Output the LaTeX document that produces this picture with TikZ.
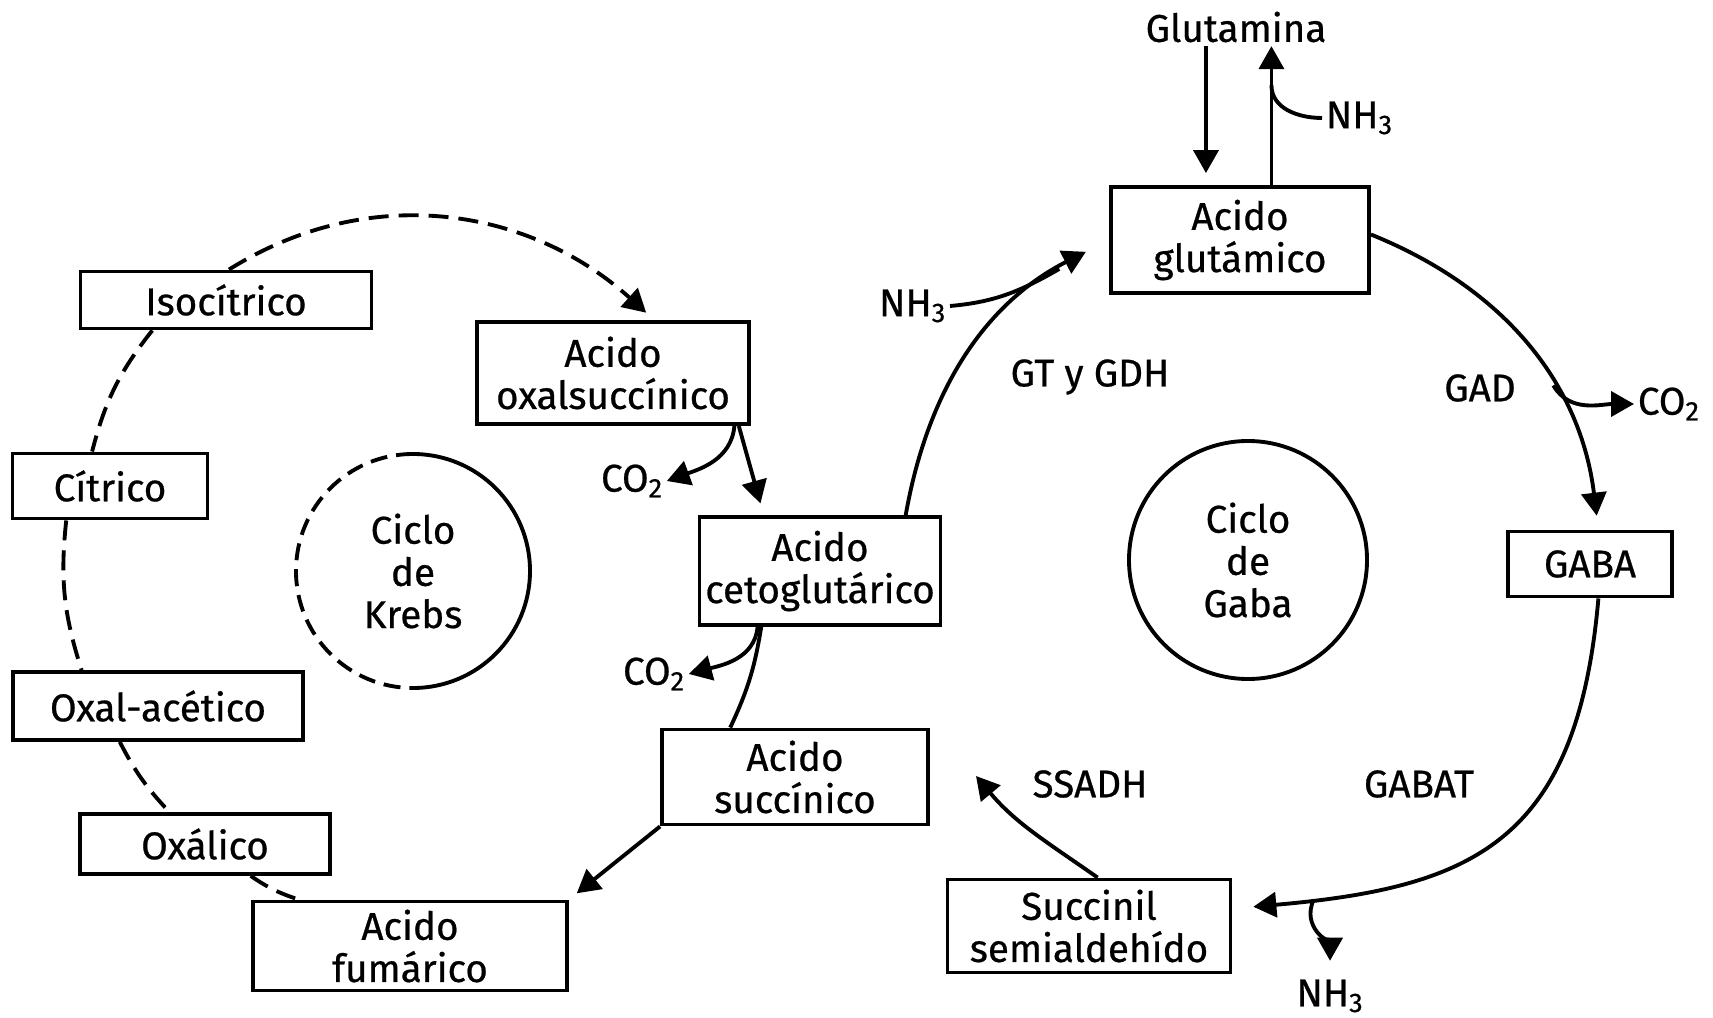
\documentclass[tikz,border=0pt]{standalone}
\usepackage{fontspec}
\setmainfont{Fira Sans}[FakeBold=0.6]
\usetikzlibrary{calc,arrows.meta}

\tikzset{
	caja/.style={draw, line width=2.2pt, align=center, inner sep=0pt, font=\fontsize{22}{24}\selectfont},
	etiq/.style={inner sep=2pt, align=center, font=\fontsize{22}{24}\selectfont},
	linea/.style={line width=2.2pt},
	flecha/.style={line width=2.2pt, -{Triangle[length=4.6mm,width=5mm]}},
	puntos/.style={line width=2.2pt, dash pattern=on 4mm off 2mm},
}

\begin{document}
\begin{tikzpicture}[x=0.2mm, y=0.2mm]
	\useasboundingbox (0,0) rectangle (1713,1017);

	% boxes, Krebs side
	\node[caja, minimum width=58.2mm, minimum height=11.4mm] (iso)  at (226,717) {Isocítrico};
	\node[caja, minimum width=39mm,   minimum height=13mm]   (cit)  at (110,531) {Cítrico};
	\node[caja, minimum width=58mm,   minimum height=13.6mm] (oxac) at (158,311) {Oxal-acético};
	\node[caja, minimum width=50mm,   minimum height=12mm]   (oxa)  at (205,173) {Oxálico};
	\node[caja, minimum width=62.8mm, minimum height=17.8mm] (fum)  at (410,71)  {Acido\\fumárico};
	\node[caja, minimum width=54.4mm, minimum height=20.4mm] (oxs)  at (613,644) {Acido\\oxalsuccínico};
	\node[caja, minimum width=48.2mm, minimum height=21.6mm] (ceto) at (820,446) {Acido\\cetoglutárico};
	\node[caja, minimum width=53.2mm, minimum height=19mm]   (suc)  at (795,240) {Acido\\succínico};

	% boxes, Gaba side
	\node[caja, minimum width=51.6mm, minimum height=21.2mm] (glu)  at (1240,777) {Acido\\glutámico};
	\node[caja, minimum width=32.8mm, minimum height=13mm]   (gaba) at (1590,453) {GABA};
	\node[caja, minimum width=56.6mm, minimum height=18.6mm] (ssa)  at (1089,91)  {Succinil\\semialdehído};

	% cycles
	\node[etiq] (krebs) at (413,446) {Ciclo\\de\\Krebs};
	\draw[linea] ($(krebs)+(0,117)$) arc[start angle=90, end angle=-90, radius=23.4mm];
	\draw[linea, dash pattern=on 3.4mm off 1.8mm] ($(krebs)+(0,117)$) arc[start angle=90, end angle=270, radius=23.4mm];
	\node[etiq, circle, draw, line width=2.2pt, minimum size=47.6mm] (gabac) at (1248,457) {Ciclo\\de\\Gaba};

	% labels
	\node[etiq] (glutamina) at (1236,990) {Glutamina};
	\node[etiq, anchor=west] (nhA) at (1322,899) {NH\textsubscript{3}};
	\node[etiq, anchor=east] (nhB) at (950,711) {NH\textsubscript{3}};
	\node[etiq] (nhC) at (1330,21) {NH\textsubscript{3}};
	\node[etiq] (gtgdh) at (1090,640) {GT y GDH};
	\node[etiq] (gad) at (1480,629) {GAD};
	\node[etiq, anchor=west] (co2A) at (1634,613) {CO\textsubscript{2}};
	\node[etiq] (co2B) at (632,536) {CO\textsubscript{2}};
	\node[etiq] (co2C) at (654,343) {CO\textsubscript{2}};
	\node[etiq] (gabat) at (1419,233) {GABAT};
	\node[etiq] (ssadh) at (1090,233) {SSADH};

	% dashed side of the Krebs cycle
	\draw[puntos, -{Triangle[length=4.6mm,width=5mm]}, shorten >=2.2mm]
		($(iso.north west)!0.51!(iso.north east)$) to[out=32,in=138] ($(oxs.north west)!0.65!(oxs.north east)$);
	\draw[puntos] ($(iso.south west)!0.25!(iso.south east)$) to[bend right=12] ($(cit.north west)!0.41!(cit.north east)$);
	\draw[puntos] ($(cit.south west)!0.28!(cit.south east)$) to[bend right=12] ($(oxac.north west)!0.24!(oxac.north east)$);
	\draw[puntos] ($(oxac.south west)!0.37!(oxac.south east)$) to[bend right=8] ($(oxa.north west)!0.36!(oxa.north east)$);
	\draw[puntos] ($(oxa.south west)!0.68!(oxa.south east)$) to[bend right=8] ($(fum.north west)!0.15!(fum.north east)$);

	% Krebs steps
	\draw[flecha, shorten >=2.4mm] ($(oxs.south west)!0.956!(oxs.south east)$) -- ($(ceto.north west)!0.27!(ceto.north east)$);
	\draw[flecha] ($(oxs.south west)!0.94!(oxs.south east)$) to[out=-95,in=20] (co2B.east);
	\draw[linea] ($(ceto.south west)!0.26!(ceto.south east)$) to[bend left=8] ($(suc.north west)!0.26!(suc.north east)$);
	\draw[flecha] ($(ceto.south west)!0.245!(ceto.south east)$) to[out=-95,in=15] (co2C.east);
	\draw[flecha, shorten >=2mm] (suc.south west) -- (fum.north east);

	% Gaba cycle
	\draw[flecha, shorten >=5.2mm] ($(ceto.north west)!0.85!(ceto.north east)$) to[out=80,in=207] coordinate[pos=0.85] (jA) (glu.west);
	\draw[linea] (nhB.east) to[out=5,in=210] (jA);
	\draw[flecha, shorten >=2.8mm] ($(glu.north east)!0.45!(glu.south east)$) to[out=-22,in=97] coordinate[pos=0.62] (jC) ($(gaba.north west)!0.55!(gaba.north east)$);
	\draw[flecha] (jC) to[out=-60,in=180] (co2A.west);
	\draw[flecha, shorten >=4.2mm] ($(gaba.south west)!0.55!(gaba.south east)$) to[out=-95,in=5,looseness=1.3] coordinate[pos=0.88] (jD) ($(ssa.north east)!0.32!(ssa.south east)$);
	\draw[flecha, shorten >=3mm] (jD) to[out=-115,in=90] (nhC.north);
	\coordinate (ssadhtip) at (976,241);
	\draw[flecha] ($(ssa.north west)!0.53!(ssa.north east)$) to[out=145,in=-50] (ssadhtip);

	% glutamina
	\coordinate (bajaG) at ($(glu.north west)!0.37!(glu.north east)$);
	\coordinate (subeG) at ($(glu.north west)!0.62!(glu.north east)$);
	\draw[flecha, shorten >=2.4mm] (glutamina.south -| bajaG) -- (bajaG);
	\draw[flecha] (subeG) -- coordinate[pos=0.72] (jB) (glutamina.south -| subeG);
	\draw[linea] (nhA.west) to[out=180,in=-90] (jB);

\end{tikzpicture}
\end{document}
